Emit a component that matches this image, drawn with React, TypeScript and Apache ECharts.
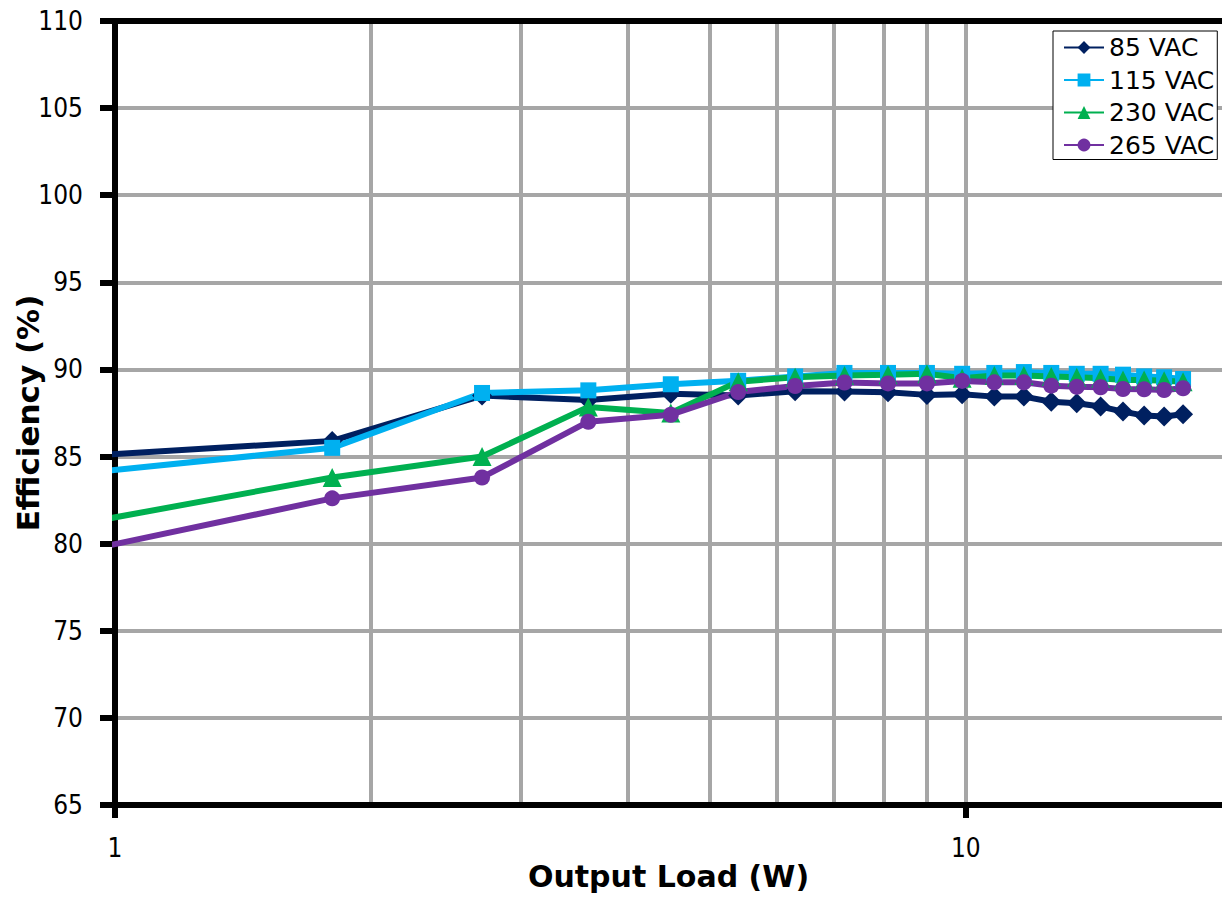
import React, { useEffect, useRef } from "react";
import * as echarts from "echarts";

const loads = [0.9, 1.8, 2.7, 3.6, 4.5, 5.4, 6.3, 7.2, 8.1, 9.0, 9.9, 10.8, 11.7, 12.6, 13.5, 14.4, 15.3, 16.2, 17.1, 18.0];
const vac85 = [85.0, 85.9, 88.5, 88.25, 88.6, 88.5, 88.75, 88.73, 88.69, 88.54, 88.58, 88.44, 88.44, 88.15, 88.06, 87.87, 87.58, 87.35, 87.3, 87.43];
const vac115 = [84.0, 85.5, 88.65, 88.8, 89.15, 89.35, 89.6, 89.8, 89.8, 89.8, 89.75, 89.8, 89.85, 89.8, 89.75, 89.75, 89.7, 89.6, 89.55, 89.45];
const vac230 = [81.1, 83.8, 85.0, 87.85, 87.5, 89.3, 89.55, 89.65, 89.7, 89.75, 89.5, 89.65, 89.65, 89.6, 89.55, 89.5, 89.4, 89.4, 89.35, 89.3];
const vac265 = [79.5, 82.6, 83.8, 87.0, 87.4, 88.7, 89.05, 89.25, 89.2, 89.2, 89.34, 89.26, 89.26, 89.07, 89.0, 88.98, 88.88, 88.86, 88.82, 88.92];

const seriesNames = ["85 VAC", "115 VAC", "230 VAC", "265 VAC"];
const seriesColors = ["#002060", "#00B0F0", "#00B050", "#7030A0"];
const seriesSymbols = ["diamond", "rect", "triangle", "circle"];
const seriesSymbolSizes = [20, 16, 19, 16];
const seriesValues = [vac85, vac115, vac230, vac265];

const xGridLines = [2, 3, 4, 5, 6, 7, 8, 9, 10];
const xMin = 1;
const xMax = 20;
const yMin = 65;
const yMax = 110;
const yStep = 5;

const FONT = "'DejaVu Sans Condensed', 'DejaVu Sans', sans-serif";
const FONT_WIDE = "'DejaVu Sans', sans-serif";

export default function App() {
  const ref = useRef<HTMLDivElement>(null);

  useEffect(() => {
    if (!ref.current) return;
    const chart = echarts.init(ref.current, null, { renderer: "svg" });

    const dataSeries = seriesNames.map((name, i) => ({
      name,
      type: "line",
      data: loads.map((x, j) => [x, seriesValues[i][j]]),
      symbol: seriesSymbols[i],
      symbolSize: seriesSymbolSizes[i],
      showAllSymbol: true,
      clip: true,
      z: 3,
      lineStyle: { color: seriesColors[i], width: 6 },
      itemStyle: { color: seriesColors[i] },
    }));

    const option = {
      animation: false,
      textStyle: { fontFamily: FONT },
      grid: { left: 115, right: 0, top: 21, bottom: 100, containLabel: false, outerBoundsMode: "none" },
      legend: {
        orient: "vertical",
        left: 1053,
        top: 31,
        data: seriesNames,
        itemWidth: 40,
        itemHeight: 16,
        itemGap: 7.5,
        padding: [4, 3, 2, 10],
        borderColor: "#000",
        borderWidth: 1,
        borderRadius: 0,
        backgroundColor: "#fff",
        textStyle: { fontFamily: FONT_WIDE, fontSize: 25, color: "#000" },
        z: 10,
      },
      xAxis: [
        {
          type: "log",
          logBase: 10,
          min: xMin,
          max: xMax,
          z: 2,
          name: "Output Load (W)",
          nameLocation: "middle",
          nameGap: 56,
          nameMoveOverlap: false,
          nameTextStyle: { fontFamily: FONT_WIDE, fontSize: 30, fontWeight: "bold", color: "#000" },
          axisLine: { lineStyle: { color: "#000", width: 6 } },
          axisTick: { show: true, length: 13, lineStyle: { color: "#000", width: 6 } },
          axisLabel: {
            color: "#000",
            fontSize: 26,
            fontFamily: FONT,
            margin: 30,
            showMaxLabel: false,
            formatter: (v: number) => (v === 1 || v === 10 ? String(v) : ""),
          },
          splitLine: { show: false },
          minorTick: { show: false },
        },
        {
          type: "log",
          logBase: 10,
          min: xMin,
          max: xMax,
          position: "top",
          z: 2,
          axisLine: { show: true, lineStyle: { color: "#000", width: 6 } },
          axisTick: { show: false },
          axisLabel: { show: false },
          splitLine: { show: false },
        },
      ],
      yAxis: {
        type: "value",
        min: yMin,
        max: yMax,
        interval: yStep,
        z: 2,
        name: "Efficiency (%)",
        nameLocation: "middle",
        nameGap: 72,
        nameMoveOverlap: false,
        nameTextStyle: { fontFamily: FONT_WIDE, fontSize: 31, fontWeight: "bold", color: "#000" },
        axisLine: { show: true, lineStyle: { color: "#000", width: 6 } },
        axisTick: { show: true, length: 15, lineStyle: { color: "#000", width: 6 } },
        axisLabel: { color: "#000", fontSize: 26, fontFamily: FONT, margin: 32 },
        splitLine: { show: true, lineStyle: { color: "#A6A6A6", width: 4 } },
      },
      series: [
        {
          name: "grid-x",
          type: "line",
          data: [[xMin, yMin]],
          symbol: "none",
          lineStyle: { width: 0 },
          silent: true,
          z: 1,
          markLine: {
            silent: true,
            z: 1,
            symbol: ["none", "none"],
            label: { show: false },
            lineStyle: { color: "#A6A6A6", width: 4, type: "solid" },
            emphasis: { disabled: true },
            data: xGridLines.map((v) => ({ xAxis: v })),
          },
        },
        ...dataSeries,
      ],
    };

    chart.setOption(option as any);
    return () => chart.dispose();
  }, []);

  return (
    <div
      ref={ref}
      style={{ position: "absolute", left: 0, top: 0, width: 1222, height: 905, background: "#fff" }}
    />
  );
}
